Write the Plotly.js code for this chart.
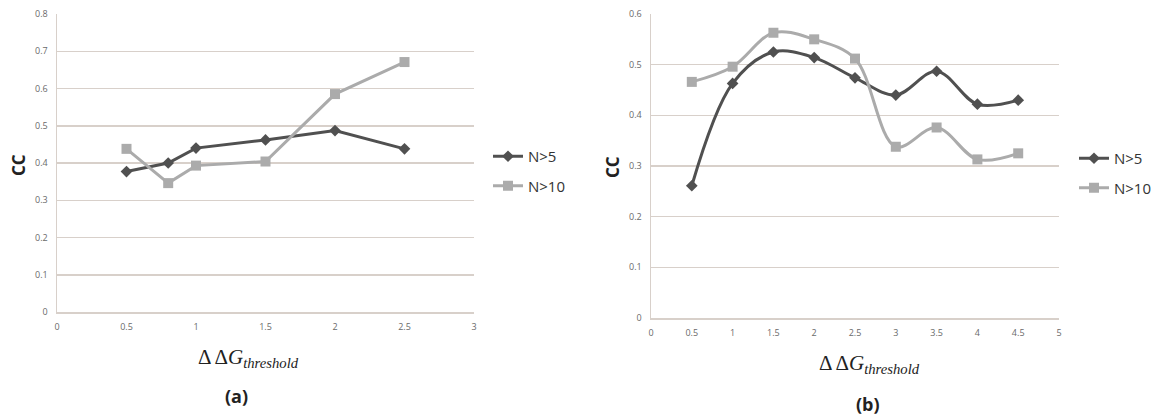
<!DOCTYPE html>
<html>
<head>
<meta charset="utf-8">
<script src="https://cdn.plot.ly/plotly-3.0.1.min.js"></script>
<style>html,body{margin:0;padding:0;background:#fff;}#chart{width:1157px;height:420px;}</style>
</head>
<body>
<div id="chart"></div>
<script>
// Chart (a)
const xA = [0.5, 0.8, 1, 1.5, 2, 2.5];
const aN5 = [0.377, 0.400, 0.440, 0.462, 0.487, 0.438];
const aN10 = [0.438, 0.346, 0.393, 0.404, 0.585, 0.671];
// Chart (b)
const xB = [0.5, 1, 1.5, 2, 2.5, 3, 3.5, 4, 4.5];
const bN5 = [0.261, 0.463, 0.525, 0.514, 0.474, 0.440, 0.487, 0.422, 0.430];
const bN10 = [0.466, 0.496, 0.563, 0.550, 0.512, 0.338, 0.376, 0.313, 0.325];
const seriesNames = ["N>5", "N>10"];
const yTitle = "CC";
const xTitle = "Δ Δ<i>G</i><sub><i>threshold</i></sub>";
const panelLabels = ["(a)", "(b)"];

const dark = "#505050", light = "#ababab";
const grid = "#d8d0ca";
const tickFont = {family: "Open Sans, sans-serif", size: 9, color: "#6a6a6a"};

function tr(x, y, name, color, symbol, xa, ya, legend, spline) {
  return {
    x: x, y: y, name: name, type: "scatter", mode: "lines+markers",
    xaxis: xa, yaxis: ya, legend: legend, legendgroup: legend + name,
    line: {color: color, width: 3, shape: spline ? "spline" : "linear", smoothing: 1},
    marker: {color: color, symbol: symbol, size: symbol === "diamond" ? 9 : 10}
  };
}

const data = [
  tr(xA, aN5, seriesNames[0], dark, "diamond", "x", "y", "legend", false),
  tr(xA, aN10, seriesNames[1], light, "square", "x", "y", "legend", false),
  tr(xB, bN5, seriesNames[0], dark, "diamond", "x2", "y2", "legend2", true),
  tr(xB, bN10, seriesNames[1], light, "square", "x2", "y2", "legend2", true)
];

function xax(dom, range, anchor) {
  return {domain: dom, range: range, dtick: 0.5, tick0: 0, anchor: anchor,
    showgrid: false, zeroline: false, showline: true, linecolor: grid, linewidth: 1.5,
    ticks: "", tickfont: tickFont, ticklabelstandoff: 6, fixedrange: true};
}
function yax(dom, range, anchor) {
  return {domain: dom, range: range, dtick: 0.1, tick0: 0, anchor: anchor,
    showgrid: true, gridcolor: grid, gridwidth: 1.5, zeroline: false,
    showline: true, linecolor: grid, linewidth: 1.5,
    ticks: "", tickfont: tickFont, ticklabelstandoff: 6, fixedrange: true};
}

const W = 1157, H = 420;
const legFont = {family: "Open Sans, sans-serif", size: 15, color: "#333"};
function ann(text, px, py, font, angle) {
  return {text: text, xref: "paper", yref: "paper", x: px / W, y: 1 - py / H,
    xanchor: "center", yanchor: "middle", showarrow: false, textangle: angle || 0, font: font};
}
const ccFont = {family: "Open Sans, sans-serif", size: 17, color: "#222", weight: "bold"};
const xtFont = {family: "Liberation Serif, serif", size: 21, color: "#222"};
const lblFont = {family: "Open Sans, sans-serif", size: 18, color: "#222", weight: "bold"};

const layout = {
  width: W, height: H, margin: {l: 0, r: 0, t: 0, b: 0},
  paper_bgcolor: "#fff", plot_bgcolor: "#fff", showlegend: true,
  xaxis: xax([57 / W, 474 / W], [0, 3], "y"),
  yaxis: yax([1 - 312 / H, 1 - 14 / H], [0, 0.8], "x"),
  xaxis2: xax([651 / W, 1059 / W], [0, 5], "y2"),
  yaxis2: yax([1 - 318 / H, 1 - 14 / H], [0, 0.6], "x2"),
  legend: {x: 488 / W, y: 1 - 140 / H, xanchor: "left", yanchor: "top", font: legFont,
    bgcolor: "rgba(0,0,0,0)", tracegroupgap: 7, traceorder: "grouped", itemwidth: 30},
  legend2: {x: 1074 / W, y: 1 - 142 / H, xanchor: "left", yanchor: "top", font: legFont,
    bgcolor: "rgba(0,0,0,0)", tracegroupgap: 7, traceorder: "grouped", itemwidth: 30},
  annotations: [
    ann(yTitle, 19, 165, ccFont, -90),
    ann(yTitle, 613, 167, ccFont, -90),
    ann(xTitle, 248, 358, xtFont),
    ann(xTitle, 869, 364, xtFont),
    ann(panelLabels[0], 236, 396, lblFont),
    ann(panelLabels[1], 868, 404, lblFont)
  ]
};

Plotly.newPlot("chart", data, layout, {displayModeBar: false, staticPlot: true});
</script>
</body>
</html>
